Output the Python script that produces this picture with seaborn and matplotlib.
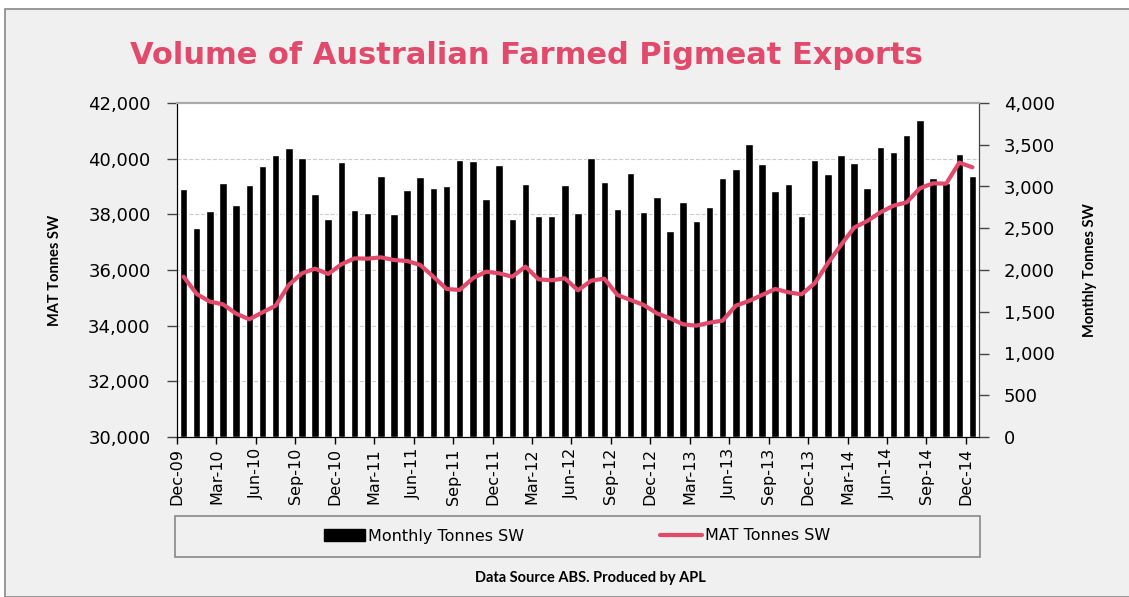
import matplotlib
matplotlib.use('Agg')
import matplotlib.pyplot as plt
import matplotlib.transforms as mtransforms
from matplotlib.patches import Rectangle, Patch
from matplotlib.lines import Line2D
import seaborn as sns
import pandas as pd

sns.set_style('white')
plt.rcParams['font.family'] = ['DejaVu Sans']
plt.rcParams.update({'text.color': 'black', 'xtick.color': 'black',
                     'ytick.color': 'black', 'axes.labelcolor': 'black'})

months = pd.date_range('2009-12-01', '2014-12-01', freq='MS').strftime('%b-%y')

monthly_tonnes = [2970, 2503, 2707, 3042, 2778, 3018, 3245, 3377, 3461, 3341,
                  2910, 2611, 3293, 2719, 2683, 3126, 2671, 2958, 3114, 2982,
                  3006, 3317, 3305, 2850, 3257, 2611, 3030, 2647, 2647, 3018,
                  2683, 3341, 3054, 2731, 3162, 2695, 2874, 2467, 2814, 2587,
                  2754, 3102, 3210, 3509, 3269, 2946, 3030, 2647, 3317, 3150,
                  3377, 3281, 2982, 3473, 3413, 3617, 3796, 3102, 3042, 3389,
                  3126]

mat_tonnes = [35760, 35138, 34862, 34767, 34431, 34228, 34479, 34718, 35461, 35880,
              36048, 35857, 36204, 36419, 36407, 36455, 36359, 36324, 36180, 35760,
              35320, 35282, 35701, 35940, 35880, 35760, 36120, 35665, 35630, 35701,
              35270, 35617, 35689, 35102, 34922, 34743, 34443, 34264, 34048, 34000,
              34108, 34180, 34718, 34887, 35102, 35318, 35198, 35126, 35521, 36240,
              36899, 37521, 37761, 38072, 38312, 38431, 38935, 39114, 39102, 39857,
              39689]

df = pd.DataFrame({'month': months, 'pos': range(len(months)),
                   'monthly': monthly_tonnes, 'mat': mat_tonnes})

pink = '#e24a6c'
bg = '#f0f0f0'
label_font = ['Lato', 'DejaVu Sans']

fig = plt.figure(figsize=(11.29, 5.97), dpi=100, facecolor='white')
# chart background panel
fig.patches.append(Rectangle((5/1129, 0), 1.0, 1 - 9/597, transform=fig.transFigure,
                             facecolor=bg, edgecolor='#888888', lw=1.2, zorder=-10))

ax = fig.add_axes([177/1129, 1 - 437/597, 802/1129, 334/597])
ax.set_facecolor('white')
ax2 = ax.twinx()

sns.barplot(data=df, x='month', y='monthly', color='black', width=0.57,
            saturation=1, ax=ax, zorder=2)
sns.lineplot(data=df, x='pos', y='mat', color=pink, lw=3, ax=ax2, zorder=5)

# bars: right-hand axis
ax.set_ylim(0, 4000)
ax.set_xlim(-0.5, len(months) - 0.5)
ax.set_yticks(range(0, 4001, 500))
ax.set_yticklabels([f'{v:,}' for v in range(0, 4001, 500)], fontsize=13)
ax.set_xlabel('')
ax.set_xticks([i - 0.5 for i in range(0, len(months), 3)])
ax.set_xticklabels(months[::3], rotation=90, fontsize=11.5)
ax.tick_params(axis='x', direction='out', length=5, width=1, color='black', pad=3, bottom=True)

# MAT line: left-hand axis
ax2.set_ylim(30000, 42000)
ax2.set_yticks(range(30000, 42001, 2000))
ax2.set_yticklabels([f'{v:,}' for v in range(30000, 42001, 2000)], fontsize=13)
ax2.set_xlabel('')

ax.yaxis.tick_right()
ax.yaxis.set_label_position('right')
ax2.yaxis.tick_left()
ax2.yaxis.set_label_position('left')
ax.tick_params(axis='y', direction='out', length=7, width=1, color='#444444', pad=11,
               right=True, left=False, labelright=True, labelleft=False)
ax2.tick_params(axis='y', direction='out', length=7, width=1, color='#444444', pad=12,
                left=True, right=False, labelleft=True, labelright=False)
ax.set_ylabel('Monthly Tonnes SW', fontsize=10.5, fontweight='bold', labelpad=20,
              family=label_font)
ax2.set_ylabel('MAT Tonnes SW', fontsize=10.5, fontweight='bold', labelpad=19,
               family=label_font)

# dashed grid for the MAT axis, kept behind the bars
trans = mtransforms.blended_transform_factory(ax.transAxes, ax2.transData)
for v in range(32000, 42000, 2000):
    ax.plot([0, 1], [v, v], transform=trans, color='#cccccc', lw=0.8, ls='--', zorder=0.5)

for a in (ax, ax2):
    a.spines['top'].set_color('#aaaaaa')
    a.spines['top'].set_linewidth(1.5)
    a.spines['left'].set_color('black')
    a.spines['right'].set_color('#444444')
    a.spines['bottom'].set_color('black')

fig.text(526/1129, 1 - 55/597, 'Volume of Australian Farmed Pigmeat Exports',
         ha='center', va='center', fontsize=22, fontweight='bold', color=pink)

# legend box
fig.patches.append(Rectangle((175/1129, 1 - 557/597), 805/1129, 41/597,
                             transform=fig.transFigure, facecolor=bg,
                             edgecolor='#888888', lw=1.2))
handles = [Patch(facecolor='black', edgecolor='black'),
           Line2D([], [], color=pink, lw=3)]
fig.legend(handles, ['Monthly Tonnes SW', 'MAT Tonnes SW'], loc='center',
           bbox_to_anchor=(577/1129, 1 - 536/597), ncol=2, frameon=False,
           fontsize=11.5, handlelength=2.6, handleheight=0.7, handletextpad=0.2,
           columnspacing=8.5)

fig.text(590/1129, 1 - 578/597, 'Data Source ABS. Produced by APL',
         ha='center', va='center', fontsize=10.5, fontweight='bold', family=label_font)

fig.savefig('out.png', dpi=100, facecolor=fig.get_facecolor())
